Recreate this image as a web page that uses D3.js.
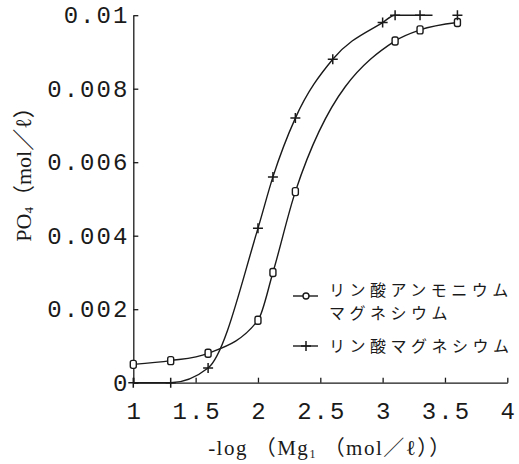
<!DOCTYPE html>
<html>
<head>
<meta charset="utf-8">
<script src="https://cdn.jsdelivr.net/npm/d3@7"></script>
<style>
  html, body { margin: 0; padding: 0; background: #fff; }
  svg { display: block; }
</style>
</head>
<body>
<svg id="chart" width="519" height="464"></svg>
<script>
// -log(Mg1) values where PO4 was measured
const xAmmonium = [1.0, 1.3, 1.6, 2.0, 2.12, 2.3, 3.1, 3.3, 3.6];
const yAmmonium = [0.0005, 0.0006, 0.0008, 0.0017, 0.0030, 0.0052, 0.0093, 0.0096, 0.0098];

const xMagnesium = [1.0, 1.3, 1.6, 2.0, 2.12, 2.3, 2.6, 3.0, 3.1, 3.3, 3.6];
const yMagnesium = [0, 0, 0.0004, 0.0042, 0.0056, 0.0072, 0.0088, 0.0098, 0.0100, 0.0100, 0.0100];

const xTicks = [1, 1.5, 2, 2.5, 3, 3.5, 4];
const xTickLabels = ["1", "1.5", "2", "2.5", "3", "3.5", "4"];
const yTicks = [0, 0.002, 0.004, 0.006, 0.008, 0.01];
const yTickLabels = ["0", "0.002", "0.004", "0.006", "0.008", "0.01"];

const legendAmmonium = ["リン酸アンモニウム", "マグネシウム"];
const legendMagnesium = ["リン酸マグネシウム"];

// the fitted curve for magnesium phosphate stops short of the last point
const magnesiumCurveEnd = 3.4;

const ink = "#1a1a1a";
const svg = d3.select("#chart");

const x = d3.scaleLinear().domain([1, 4]).range([133.3, 507.3]);
const y = d3.scaleLinear().domain([0, 0.01]).range([382.7, 15.2]);

const tickFont = "'Liberation Mono', 'DejaVu Sans Mono', monospace";
const serif = "'Liberation Serif', 'DejaVu Serif', 'Noto Sans CJK JP', serif";
const cjk = "'Noto Sans CJK JP', sans-serif";

// x axis, ticks pointing inward
const xAxis = d3.axisBottom(x)
  .tickValues(xTicks)
  .tickFormat((d, i) => xTickLabels[i])
  .tickSizeInner(-5)
  .tickSizeOuter(0)
  .tickPadding(19);
const gx = svg.append("g").attr("transform", `translate(0,${y(0)})`).call(xAxis);

// y axis, ticks pointing inward
const yAxis = d3.axisLeft(y)
  .tickValues(yTicks)
  .tickFormat((d, i) => yTickLabels[i])
  .tickSizeInner(-5)
  .tickSizeOuter(0)
  .tickPadding(4);
const gy = svg.append("g").attr("transform", `translate(${x(1)},0)`).call(yAxis);

[gx, gy].forEach(g => {
  g.select(".domain").attr("stroke", ink).attr("stroke-width", 1.3);
  g.selectAll(".tick line").attr("stroke", ink).attr("stroke-width", 1.3);
  g.selectAll(".tick text")
    .attr("fill", ink)
    .style("font-family", tickFont)
    .style("font-size", "24px")
    .style("letter-spacing", "2px");
});
gx.selectAll(".tick text").attr("dx", "1px");

// curves
const line = d3.line()
  .x(d => x(d[0]))
  .y(d => y(d[1]))
  .curve(d3.curveMonotoneX);

const ammonium = xAmmonium.map((v, i) => [v, yAmmonium[i]]);
const magnesium = xMagnesium.map((v, i) => [v, yMagnesium[i]]);

svg.append("clipPath").attr("id", "magClip")
  .append("rect")
  .attr("x", 0).attr("y", 0)
  .attr("width", x(magnesiumCurveEnd)).attr("height", 464);

svg.append("path")
  .datum(ammonium)
  .attr("d", line)
  .attr("fill", "none")
  .attr("stroke", ink)
  .attr("stroke-width", 1.4);

svg.append("path")
  .datum(magnesium)
  .attr("d", line)
  .attr("clip-path", "url(#magClip)")
  .attr("fill", "none")
  .attr("stroke", ink)
  .attr("stroke-width", 1.4);

// markers
function squareMarker(g, cx, cy) {
  g.append("rect")
    .attr("x", cx - 3).attr("y", cy - 4)
    .attr("width", 6).attr("height", 8)
    .attr("rx", 2)
    .attr("fill", "#fff")
    .attr("stroke", ink)
    .attr("stroke-width", 1.4);
}
function plusMarker(g, cx, cy) {
  g.append("path")
    .attr("d", `M${cx - 5},${cy}H${cx + 5}M${cx},${cy - 5}V${cy + 5}`)
    .attr("stroke", ink)
    .attr("stroke-width", 1.5);
}

const gm = svg.append("g");
ammonium.forEach(d => squareMarker(gm, x(d[0]), y(d[1])));
magnesium.forEach(d => plusMarker(gm, x(d[0]), y(d[1])));

// legend
const lg = svg.append("g");
lg.append("line").attr("x1", 293).attr("x2", 318).attr("y1", 296).attr("y2", 296)
  .attr("stroke", ink).attr("stroke-width", 1.4);
lg.append("circle").attr("cx", 306).attr("cy", 296).attr("r", 3)
  .attr("fill", "#fff").attr("stroke", ink).attr("stroke-width", 1.4);
lg.append("line").attr("x1", 293).attr("x2", 318).attr("y1", 346).attr("y2", 346)
  .attr("stroke", ink).attr("stroke-width", 1.4);
plusMarker(lg, 306, 346);

const legendStyle = sel => sel
  .attr("fill", ink)
  .style("font-family", cjk)
  .style("font-size", "16px")
  .style("letter-spacing", "4.5px");

legendAmmonium.forEach((t, i) => {
  lg.append("text").call(legendStyle)
    .attr("x", 329).attr("y", 296 + i * 23)
    .text(t);
});
lg.append("text").call(legendStyle)
  .attr("x", 329).attr("y", 352)
  .text(legendMagnesium[0]);

// axis titles
const xt = svg.append("text")
  .attr("x", 330).attr("y", 455)
  .attr("text-anchor", "middle")
  .attr("fill", ink)
  .style("font-family", serif)
  .style("font-size", "21px")
  .style("letter-spacing", "1.5px");
xt.append("tspan").text("-log （Mg");
xt.append("tspan").attr("dy", 3).style("font-size", "12px").text("1");
xt.append("tspan").attr("dy", -3).text(" （mol／ℓ））");

const yt = svg.append("text")
  .attr("transform", "translate(31,169) rotate(-90)")
  .attr("text-anchor", "middle")
  .attr("fill", ink)
  .style("font-family", serif)
  .style("font-size", "22px");
yt.append("tspan").text("PO");
yt.append("tspan").attr("dy", 2).style("font-size", "13px").text("4");
yt.append("tspan").attr("dy", -2).text("（mol／ℓ）");
</script>
</body>
</html>
